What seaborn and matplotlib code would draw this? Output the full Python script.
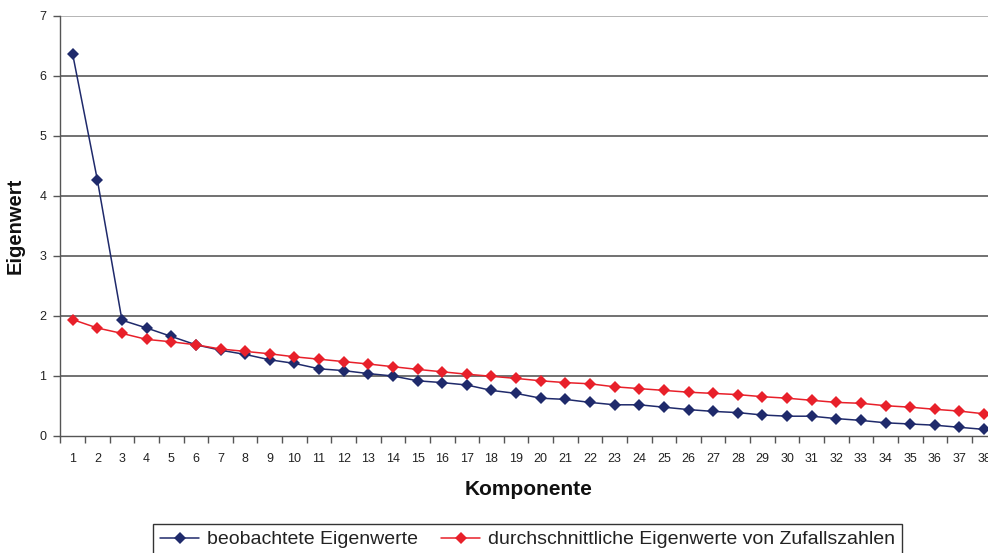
import numpy as np
import pandas as pd
import matplotlib
matplotlib.use("Agg")
import matplotlib.pyplot as plt
from matplotlib.ticker import FixedLocator
import seaborn as sns

komponente = list(range(1, 39))
beobachtet = [6.36, 4.27, 1.93, 1.80, 1.66, 1.52, 1.43, 1.36, 1.27, 1.21,
              1.12, 1.09, 1.04, 1.00, 0.92, 0.89, 0.85, 0.76, 0.71, 0.63,
              0.61, 0.56, 0.52, 0.52, 0.48, 0.44, 0.41, 0.39, 0.35, 0.33,
              0.33, 0.29, 0.26, 0.22, 0.20, 0.18, 0.145, 0.11]
zufall = [1.94, 1.80, 1.71, 1.61, 1.57, 1.52, 1.45, 1.41, 1.37, 1.32,
          1.28, 1.24, 1.20, 1.155, 1.11, 1.07, 1.03, 0.995, 0.96, 0.92,
          0.89, 0.87, 0.82, 0.79, 0.76, 0.73, 0.71, 0.69, 0.655, 0.63,
          0.595, 0.56, 0.545, 0.505, 0.48, 0.445, 0.415, 0.37]
serien = ["beobachtete Eigenwerte", "durchschnittliche Eigenwerte von Zufallszahlen"]
y_ticks = [0, 1, 2, 3, 4, 5, 6, 7]

df = pd.DataFrame({
    "Komponente": komponente * 2,
    "Eigenwert": beobachtet + zufall,
    "Serie": [serien[0]] * len(komponente) + [serien[1]] * len(komponente),
})

sns.set_theme(style="white")
plt.rcParams["font.family"] = ["Liberation Sans", "DejaVu Sans"]

fig = plt.figure(figsize=(9.88, 5.53), dpi=100)
ax = fig.add_axes([60.4 / 988, 117 / 553, 936 / 988, 420 / 553])

farben = {serien[0]: "#1f2a6b", serien[1]: "#e8202a"}
sns.lineplot(data=df, x="Komponente", y="Eigenwert", hue="Serie", style="Serie",
             palette=farben, markers={serien[0]: "D", serien[1]: "D"},
             dashes=False, markersize=6, linewidth=1.1, markeredgewidth=0,
             ax=ax, legend=True)

ax.set_xlim(0.5, 38.5)
ax.set_ylim(0, 7)

# grid lines
for v in y_ticks[1:]:
    ax.axhline(v, color="#a0a0a0" if v == 7 else "#4a4a4a", lw=1.1, zorder=0)

for s in ["top", "right"]:
    ax.spines[s].set_visible(False)
for s in ["left", "bottom"]:
    ax.spines[s].set_color("#555555")
    ax.spines[s].set_linewidth(1.0)

ax.set_yticks(y_ticks)
ax.set_yticklabels([str(v) for v in y_ticks], fontsize=9, color="#222222")
ax.set_xticks(komponente)
ax.set_xticklabels([str(k) for k in komponente], fontsize=9, color="#222222")
ax.xaxis.set_minor_locator(FixedLocator(np.arange(0.5, 39, 1)))
ax.tick_params(axis="x", which="major", length=0, pad=12)
ax.tick_params(axis="x", which="minor", length=5, width=1, color="#555555", direction="out", bottom=True)
ax.tick_params(axis="y", which="major", length=5, width=1, color="#555555", direction="out", left=True, pad=5)

ax.set_xlabel("Komponente", fontsize=15, fontweight="bold", labelpad=11, color="#111111")
ax.set_ylabel("Eigenwert", fontsize=14.5, fontweight="bold", labelpad=11, color="#111111")

handles, labels = ax.get_legend_handles_labels()
ax.get_legend().remove()
leg = fig.legend(handles, labels, loc="upper center", bbox_to_anchor=(0.534, 0.0524),
                 ncol=2, fontsize=14, frameon=True, fancybox=False, framealpha=1,
                 edgecolor="#333333", handlelength=2.0, handletextpad=0.4,
                 columnspacing=1.2, borderpad=0.35, borderaxespad=0)
leg.get_frame().set_linewidth(1.0)
for t in leg.get_texts():
    t.set_color("#222222")

fig.savefig("out.png", dpi=100)
